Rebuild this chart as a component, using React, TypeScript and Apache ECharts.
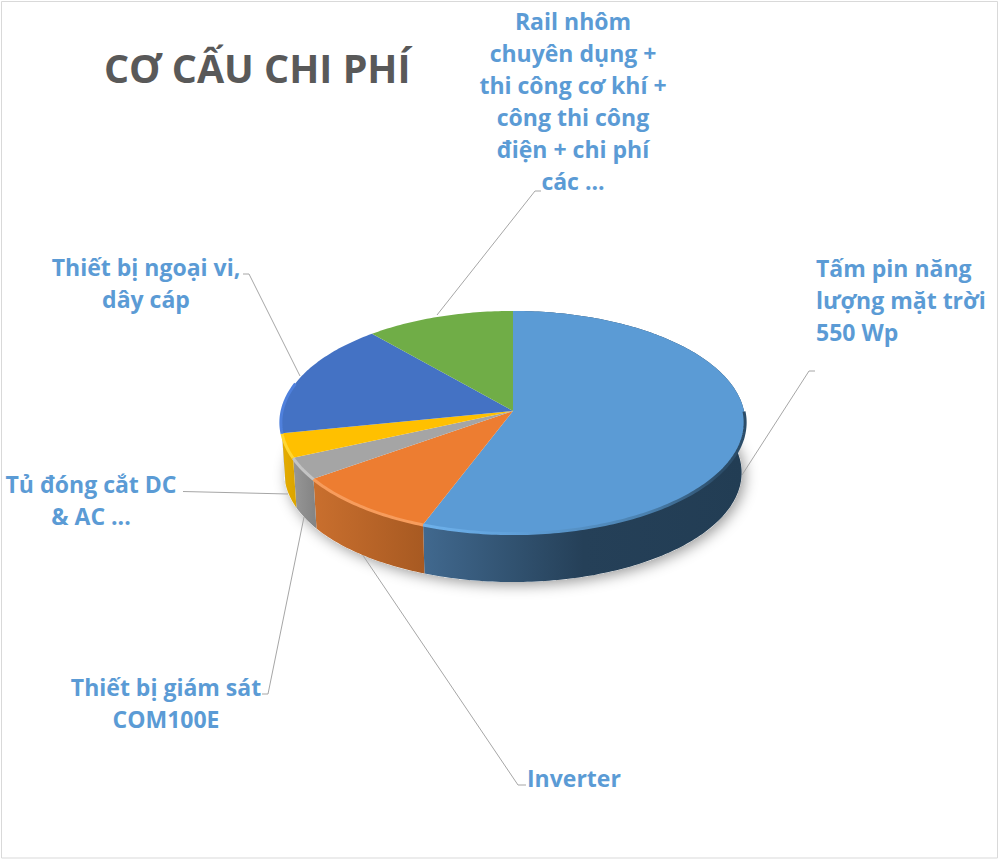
import React, { useEffect, useRef } from "react";
import * as echarts from "echarts";

const categories = [
  "Tấm pin năng lượng mặt trời 550 Wp",
  "Inverter",
  "Thiết bị giám sát COM100E",
  "Tủ đóng cắt DC & AC ...",
  "Thiết bị ngoại vi, dây cáp",
  "Rail nhôm chuyên dụng + thi công cơ khí + công thi công điện + chi phí các ...",
];
const sliceValues = [55.8, 9.4, 3.2, 3.5, 16.8, 11.4];
const topColors = ["#5b9bd5", "#ed7d31", "#a5a5a5", "#ffc000", "#4472c4", "#70ad47"];
const titleText = "CƠ CẤU CHI PHÍ";

const total = sliceValues.reduce((a, b) => a + b, 0);
const CX = 513, CY = 411, RX = 231, RA = 110, P = 0.0991, DEPTH = 50.8, BOTTOM_SCALE = 0.985;
const FONT = "'Open Sans', 'Noto Sans', sans-serif";
const LABEL = "#5b9bd5";
const LEADER = "#a6a6a6";

function project(deg: number, s = 1, off = 0): number[] {
  const t = (deg * Math.PI) / 180;
  const u = Math.sin(t), v = Math.cos(t);
  const k = 1 + P * v;
  return [CX + (s * RX * u) / k, CY - (s * RA * v) / k + off];
}
function arc(a: number, b: number, s = 1, off = 0): number[][] {
  const pts: number[][] = [];
  const n = Math.max(2, Math.ceil(Math.abs(b - a)));
  for (let i = 0; i <= n; i++) pts.push(project(a + ((b - a) * i) / n, s, off));
  return pts;
}
function sliceRange(i: number): number[] {
  let s = 0;
  for (let k = 0; k < i; k++) s += sliceValues[k];
  return [(s / total) * 360, ((s + sliceValues[i]) / total) * 360];
}
const hGrad = (x0: number, x1: number, stops: [number, string][]) => ({
  type: "linear", x: x0, y: 0, x2: x1, y2: 0, global: true,
  colorStops: stops.map(([offset, color]) => ({ offset, color })),
});

const wallFills = [
  hGrad(422, 745, [[0, "#41698f"], [0.5, "#254058"], [1, "#223d54"]]),
  hGrad(314, 422, [[0, "#c96f2e"], [1, "#a85a22"]]),
  hGrad(294, 314, [[0, "#969696"], [1, "#858585"]]),
  hGrad(282, 294, [[0, "#e6ad00"], [1, "#dca500"]]),
  "#2f5597",
  "#507e32",
];
const rimStrokes = [
  hGrad(422, 745, [[0, "#6fb2ec"], [0.3, "#5f9fd8"], [0.7, "#4a80ae"], [0.92, "#2c4d69"], [1, "#2c4d69"]]),
  "#f79c5c",
  "#c4c4c4",
  "#ffd633",
  "#4f80dc",
  "#70ad47",
];

type Lbl = { lines: string[]; x: number; y: number; align: string };
const labelBlocks: Lbl[] = [
  { lines: ["Tấm pin năng", "lượng mặt trời", "550 Wp"], x: 816, y: 268, align: "left" },
  { lines: ["Inverter"], x: 527, y: 778, align: "left" },
  { lines: ["Thiết bị giám sát", "COM100E"], x: 166, y: 687, align: "center" },
  { lines: ["Tủ đóng cắt DC", "& AC ..."], x: 91, y: 484, align: "center" },
  { lines: ["Thiết bị ngoại vi,", "dây cáp"], x: 146, y: 267, align: "center" },
  { lines: ["Rail nhôm", "chuyên dụng +", "thi công cơ khí +", "công thi công", "điện + chi phí", "các ..."], x: 573, y: 21, align: "center" },
];
const leaderLines: number[][][] = [
  [[742, 475], [809, 371], [815, 371]],
  [[362, 554], [518, 785], [526, 785]],
  [[304, 517], [268, 694], [262, 694]],
  [[288, 494], [183, 491.5]],
  [[300, 376], [249, 274], [243, 274]],
  [[437, 315], [535, 191], [541, 191]],
];

export default function App() {
  const ref = useRef<HTMLDivElement>(null);
  useEffect(() => {
    const chart = echarts.init(ref.current!, null, { renderer: "svg" });
    const seriesData = sliceValues.map((value, i) => ({ value, name: categories[i] }));
    const graphic: any[] = [
      { type: "rect", z: 0, silent: true, shape: { x: 1.5, y: 1.5, width: 996, height: 856.5 }, style: { fill: "#fff", stroke: "#d9d9d9", lineWidth: 1 } },
      {
        type: "polygon", z: 1, silent: true,
        shape: { points: arc(0, 360, BOTTOM_SCALE, DEPTH) },
        style: { fill: "#ffffff", shadowBlur: 14, shadowColor: "rgba(0,0,0,0.4)", shadowOffsetX: 3, shadowOffsetY: 3 },
      },
      {
        type: "text", z: 5, x: 104, y: 68,
        style: { text: titleText, fontFamily: FONT, fontWeight: 700, fontSize: 39.4, fill: "#595959", verticalAlign: "middle" },
      },
    ];
    leaderLines.forEach((points) =>
      graphic.push({ type: "polyline", z: 1, silent: true, shape: { points }, style: { fill: "none", stroke: LEADER, lineWidth: 1 } })
    );
    labelBlocks.forEach((b) =>
      graphic.push({
        type: "text", z: 5, x: b.x, y: b.y - 16,
        style: {
          text: b.lines.join("\n"), fontFamily: FONT, fontWeight: 700, fontSize: 23, lineHeight: 32,
          fill: LABEL, align: b.align, verticalAlign: "top",
        },
      })
    );
    chart.setOption({
      animation: false,
      backgroundColor: "#ffffff",
      graphic,
      series: [
        {
          type: "custom", coordinateSystem: "none", z: 2, silent: true, data: seriesData,
          renderItem: (p: any) => {
            const [a, b0] = sliceRange(p.dataIndex);
            const b = Math.min(b0, 259);
            if (b <= a) return { type: "group", children: [] };
            const points = [...arc(a, b), ...arc(b, a, BOTTOM_SCALE, DEPTH)];
            return { type: "polygon", shape: { points }, style: { fill: wallFills[p.dataIndex] } };
          },
        },
        {
          type: "custom", coordinateSystem: "none", z: 3, silent: true, data: seriesData,
          renderItem: (p: any) => {
            const [a, b] = sliceRange(p.dataIndex);
            return {
              type: "polygon",
              shape: { points: [[CX, CY], ...arc(a, b)] },
              style: { fill: topColors[p.dataIndex] },
            };
          },
        },
        {
          type: "custom", coordinateSystem: "none", z: 4, silent: true, data: seriesData,
          renderItem: (p: any) => {
            const [a, b] = sliceRange(p.dataIndex);
            const from = Math.max(a, 90), to = Math.min(b, 285);
            if (to <= from) return { type: "group", children: [] };
            return {
              type: "polyline",
              shape: { points: arc(from, to, 1, 0.5) },
              style: { fill: "none", stroke: rimStrokes[p.dataIndex], lineWidth: 3 },
            };
          },
        },
      ],
    });
    return () => chart.dispose();
  }, []);
  return <div ref={ref} style={{ position: "fixed", left: 0, top: 0, width: 998, height: 859 }} />;
}
